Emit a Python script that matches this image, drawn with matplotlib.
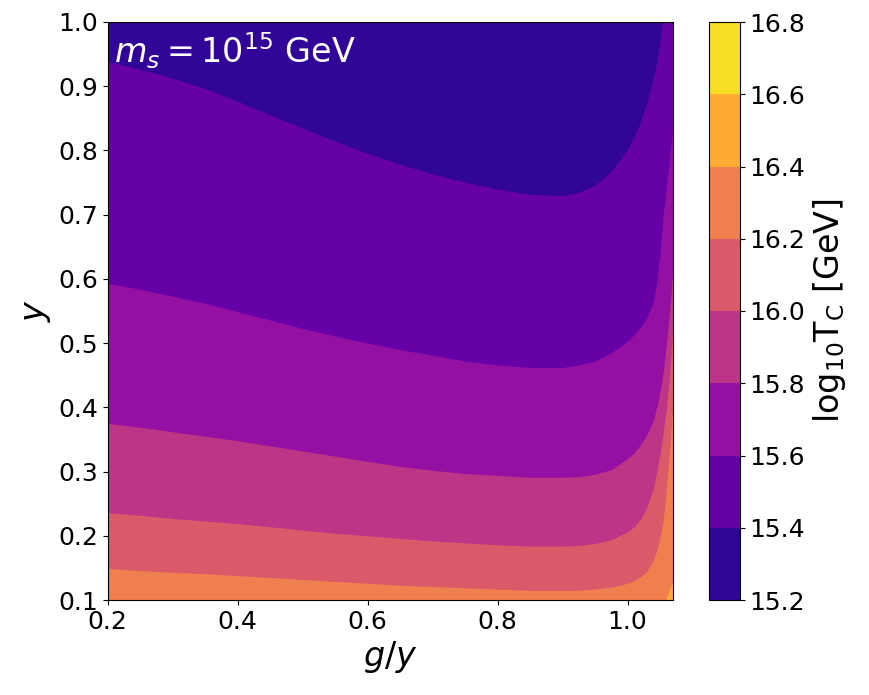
import numpy as np
import matplotlib
matplotlib.use("Agg")
import matplotlib.pyplot as plt
from matplotlib.colors import ListedColormap, BoundaryNorm
from matplotlib.cm import ScalarMappable

# ---- data ----
levels = [15.2, 15.4, 15.6, 15.8, 16.0, 16.2, 16.4, 16.6, 16.8]

g_over_y = [0.20, 0.25, 0.30, 0.35, 0.40, 0.45, 0.50, 0.55, 0.60, 0.65, 0.70, 0.75,
            0.80, 0.85, 0.90, 0.925, 0.95, 0.975, 1.00, 1.01, 1.02, 1.03, 1.04,
            1.045, 1.05, 1.055, 1.06, 1.065, 1.07]

# y position of each contour line (log10 Tc = level) at the g/y samples
contour_15_4 = [0.938, 0.926, 0.912, 0.896, 0.876, 0.855, 0.834, 0.814, 0.795, 0.778,
                0.763, 0.750, 0.739, 0.731, 0.729, 0.734, 0.745, 0.766, 0.800, 0.818,
                0.842, 0.872, 0.910, 0.933, 0.962, 1.005, 1.050, 1.100, 1.150]
contour_15_6 = [0.593, 0.584, 0.573, 0.562, 0.549, 0.536, 0.523, 0.511, 0.500, 0.490,
                0.481, 0.472, 0.466, 0.462, 0.462, 0.466, 0.472, 0.485, 0.503, 0.513,
                0.525, 0.540, 0.565, 0.595, 0.640, 0.700, 0.745, 0.790, 0.840]
contour_15_8 = [0.375, 0.369, 0.362, 0.355, 0.348, 0.340, 0.332, 0.324, 0.316, 0.308,
                0.302, 0.297, 0.294, 0.291, 0.291, 0.292, 0.296, 0.303, 0.320, 0.329,
                0.342, 0.358, 0.380, 0.400, 0.425, 0.456, 0.500, 0.552, 0.620]
contour_16_0 = [0.236, 0.232, 0.227, 0.223, 0.219, 0.214, 0.209, 0.204, 0.200, 0.196,
                0.192, 0.189, 0.186, 0.184, 0.184, 0.185, 0.188, 0.194, 0.206, 0.214,
                0.226, 0.245, 0.275, 0.300, 0.328, 0.360, 0.400, 0.455, 0.530]
contour_16_2 = [0.149, 0.146, 0.143, 0.141, 0.138, 0.135, 0.132, 0.129, 0.126, 0.123,
                0.121, 0.119, 0.117, 0.115, 0.115, 0.115, 0.117, 0.120, 0.126, 0.130,
                0.136, 0.145, 0.163, 0.177, 0.197, 0.225, 0.275, 0.335, 0.410]
contour_16_4 = [0.050, 0.050, 0.050, 0.050, 0.050, 0.050, 0.050, 0.050, 0.050, 0.050,
                0.050, 0.050, 0.050, 0.050, 0.050, 0.050, 0.050, 0.050, 0.050, 0.050,
                0.050, 0.050, 0.050, 0.050, 0.050, 0.090, 0.104, 0.117, 0.130]

contours = [contour_15_4, contour_15_6, contour_15_8, contour_16_0, contour_16_2, contour_16_4]

cbar_ticks = [15.2, 15.4, 15.6, 15.8, 16.0, 16.2, 16.4, 16.6, 16.8]
x_ticks = [0.2, 0.4, 0.6, 0.8, 1.0]
y_ticks = [0.1, 0.2, 0.3, 0.4, 0.5, 0.6, 0.7, 0.8, 0.9, 1.0]

# ---- colours: plasma sampled at band midpoints (as contourf does) ----
cmap = plt.get_cmap("plasma")
lo, hi = levels[0], levels[-1]
mids = [(a + b) / 2 for a, b in zip(levels[:-1], levels[1:])]
band_colors = [cmap((m - lo) / (hi - lo)) for m in mids]

fig = plt.figure(figsize=(8.69, 6.95), dpi=100)
W, H = 869, 695
ax = fig.add_axes([107.7 / W, (H - 600) / H, (673 - 107.7) / W, (600 - 22) / H])

x = np.array(g_over_y)
ax.fill_between(x, 0.0, 1.5, color=band_colors[0], lw=0)
for i, c in enumerate(contours):
    ax.fill_between(x, 0.0, np.array(c), color=band_colors[i + 1], lw=0)

ax.set_xlim(0.2, 1.07)
ax.set_ylim(0.1, 1.0)
ax.set_xticks(x_ticks)
ax.set_xticklabels([f"{t:.1f}" for t in x_ticks])
ax.set_yticks(y_ticks)
ax.set_yticklabels([f"{t:.1f}" for t in y_ticks])
ax.tick_params(labelsize=18)
ax.set_xlabel(r"$g/y$", fontsize=24)
ax.set_ylabel(r"$y$", fontsize=24)

ax.text(0.012, 0.985, r"$m_s = 10^{15}$ GeV", transform=ax.transAxes,
        color="white", fontsize=24, ha="left", va="top")

# ---- colour bar ----
cax = fig.add_axes([709 / W, (H - 600) / H, 31 / W, (600 - 22) / H])
norm = BoundaryNorm(levels, len(band_colors))
sm = ScalarMappable(norm=norm, cmap=ListedColormap(band_colors))
cb = fig.colorbar(sm, cax=cax, ticks=cbar_ticks)
cb.ax.set_yticklabels([f"{t:.1f}" for t in cbar_ticks])
cb.ax.tick_params(labelsize=18)
cb.set_label(r"log$_{10}$T$_\mathrm{C}$ [GeV]", fontsize=24)

fig.savefig("out.png", dpi=100)
